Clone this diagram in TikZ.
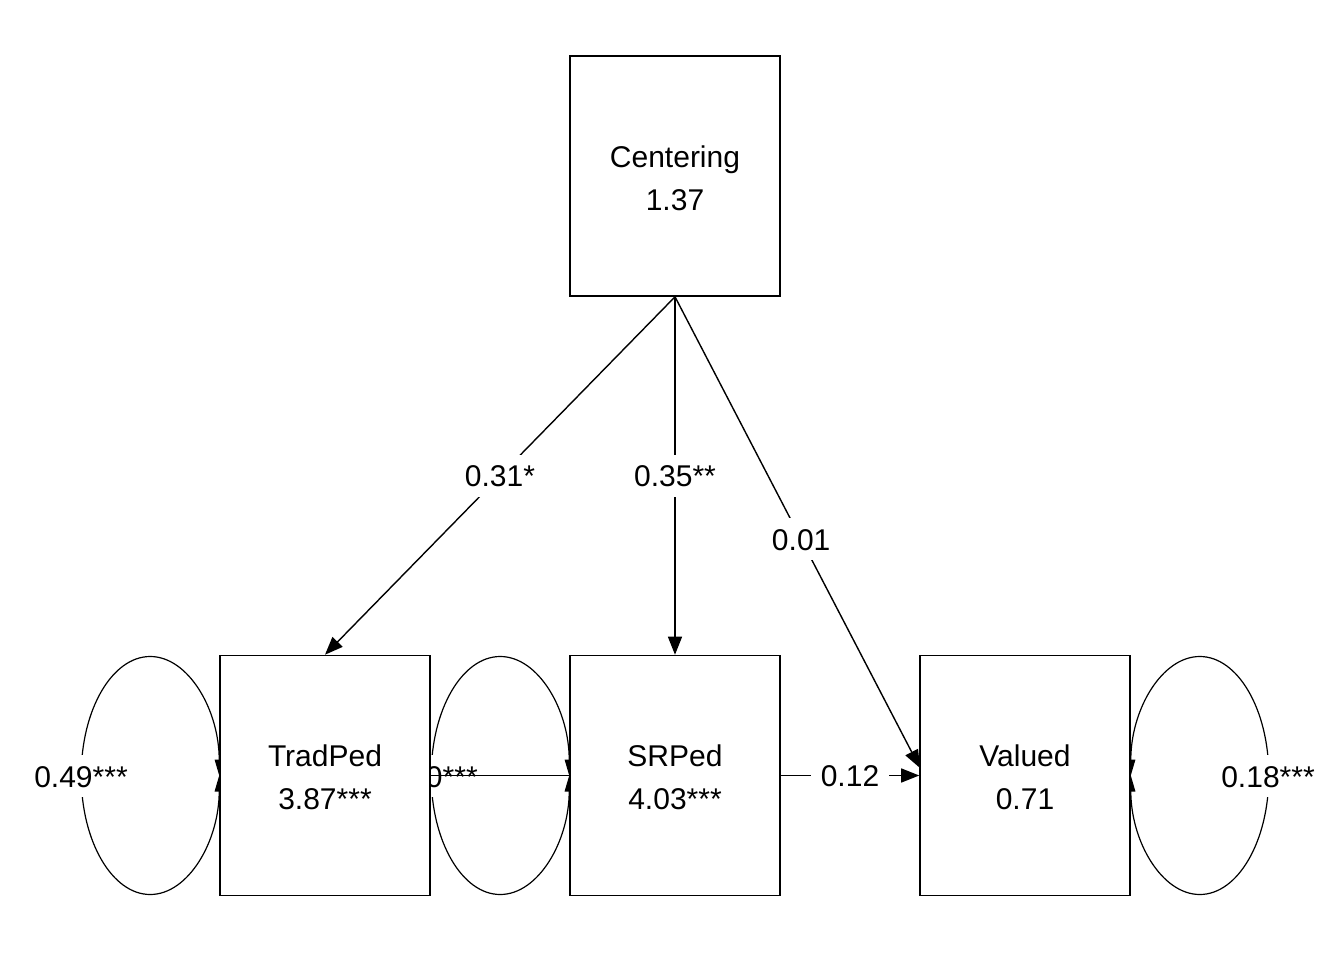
\documentclass[tikz,border=0pt]{standalone}
\usepackage{fontspec}
\setmainfont{Liberation Sans}
\usetikzlibrary{arrows.meta}
\pgfdeclarelayer{bg}
\pgfsetlayers{bg,main}
\begin{document}
\begin{tikzpicture}[x=1pt,y=-1pt,
  box/.style={draw,line width=1.6pt,fill=white,minimum width=210pt,minimum height=240pt,inner sep=0pt},
  boxtext/.style={inner sep=0pt,align=center,font=\fontsize{30}{43}\selectfont},
  lbl/.style={fill=white,inner sep=10pt,text height=22pt,text depth=0pt,font=\fontsize{30}{36}\selectfont},
  pathedge/.style={line width=1.4pt,-{Triangle[length=18pt,width=14pt]}},
  plainedge/.style={line width=1.4pt},
  varloop/.style={line width=1.2pt,{Triangle[length=16pt,width=9pt]}-{Triangle[length=16pt,width=9pt]}}]
\useasboundingbox (0,0) rectangle (1344,960);
\node[box] (C) at (675,176) {};
\node[box] (T) at (325,775.5) {};
\node[box] (S) at (675,775.5) {};
\node[box] (V) at (1025,775.5) {};
\node[boxtext] (Ct) at ([yshift=-2.5pt]C.center) {Centering\\1.37};
\node[boxtext] (Tt) at ([yshift=-2pt]T.center) {TradPed\\3.87***};
\node[boxtext] (St) at ([yshift=-2pt]S.center) {SRPed\\4.03***};
\node[boxtext] (Vt) at ([yshift=-2pt]V.center) {Valued\\0.71};
\coordinate (Vin) at (920,768);
\begin{pgfonlayer}{bg}
  % variance loops
  \draw[varloop] (T.west) arc[start angle=0,end angle=360,x radius=69pt,y radius=119pt];
  \draw[varloop] (S.west) arc[start angle=0,end angle=360,x radius=69pt,y radius=119pt];
  \draw[varloop] (V.east) arc[start angle=180,end angle=-180,x radius=69pt,y radius=119pt];
  \node[lbl] (lT) at (81,776) {0.49***};
  \node[lbl] (lS) at (431,776) {0.40***};
  \node[lbl] (lV) at (1268,776) {0.18***};
  % regressions
  \draw[pathedge] (C.south) -- node[lbl,pos=0.5] (e1) {0.31*} (T.north);
  \draw[pathedge] (C.south) -- node[lbl,pos=0.5] (e2) {0.35**} (S.north);
  \draw[pathedge] (C.south) -- node[lbl,pos=0.515] (e3) {0.01} (Vin);
  \draw[plainedge] (T.east) -- (S.west);
  \draw[pathedge] (S.east) -- node[lbl] (e4) {0.12} (V.west);
\end{pgfonlayer}
\end{tikzpicture}
\end{document}
